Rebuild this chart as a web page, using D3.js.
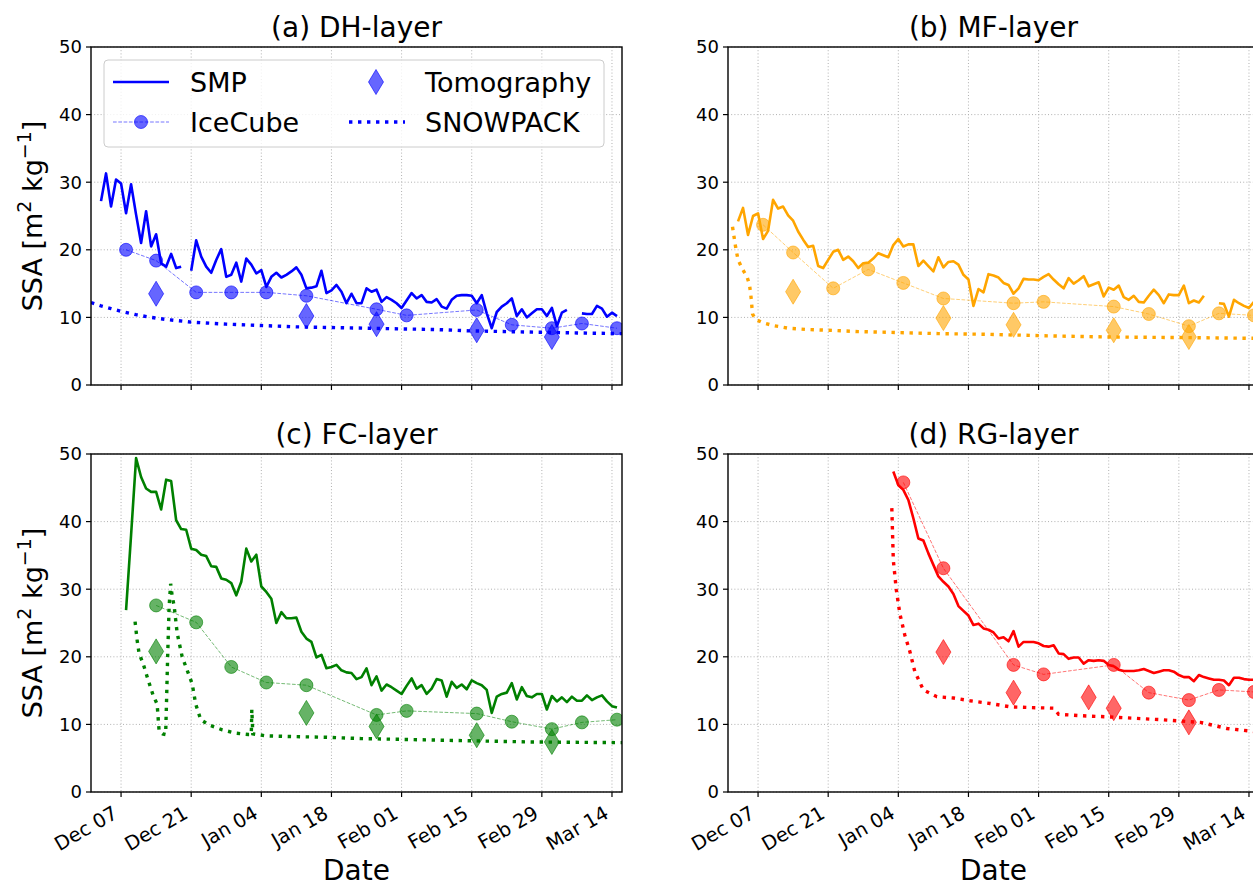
<!DOCTYPE html>
<html><head><meta charset="utf-8">
<script src="https://cdn.jsdelivr.net/npm/d3@7"></script>
<style>
html,body{margin:0;padding:0;background:#fff;}
svg{display:block;font-family:"DejaVu Sans",sans-serif;}
</style></head>
<body><svg id="chart" width="1253" height="888"></svg>
<script>
// ---------------- DATA ----------------
const seasonStart = "2015-12-01";   // SNOWPACK day offsets count from here
const xDomain = ["2015-12-01", "2016-03-16"];
const xTickDates = ["2015-12-07","2015-12-21","2016-01-04","2016-01-18","2016-02-01","2016-02-15","2016-02-29","2016-03-14"];
const yTicks = [0, 10, 20, 30, 40, 50];
const panelTitles = ["(a) DH-layer", "(b) MF-layer", "(c) FC-layer", "(d) RG-layer"];
const panelColors = ["blue", "orange", "green", "red"];
const seriesNames = ["SMP", "IceCube", "Tomography", "SNOWPACK"];

// SMP: daily values from a start date (null = no measurement)
const smpStartA = "2015-12-03";
const smpA = [27.2,31.3,26.4,30.4,29.8,25.4,29.7,25.2,21.0,25.7,20.5,22.3,18.0,17.5,19.4,17.3,17.5,null,
  16.9,21.4,19.0,17.5,16.6,18.5,20.1,16.0,16.3,18.1,15.3,
  18.7,17.8,16.5,17.0,14.5,16.0,16.6,15.9,16.3,16.8,17.4,16.3,14.3,14.4,14.6,16.9,13.6,
  14.0,14.8,13.8,12.1,13.5,12.1,12.1,14.3,13.8,14.1,12.3,13.0,12.6,12.1,
  11.4,12.5,13.6,12.8,13.3,12.3,12.2,12.7,11.6,11.3,12.6,13.2,13.3,13.3,13.2,12.1,13.3,10.6,8.4,10.8,11.6,12.1,12.8,10.2,11.2,10.0,10.6,11.2,11.2,
  10.2,11.4,8.7,10.7,11.1,null,null,10.6,10.5,10.5,11.7,11.3,10.1,10.7,10.2];
const smpStartB = "2015-12-03";
const smpB = [24.2,26.2,22.2,25.0,25.4,21.6,22.8,27.4,26.1,26.4,25.1,24.3,22.7,21.5,20.4,20.6,17.6,17.3,18.5,19.7,
  20.0,18.5,19.0,18.3,17.3,18.0,18.1,18.7,19.5,19.2,18.9,20.7,21.6,20.5,20.8,20.8,17.6,18.4,17.6,16.8,
  18.9,17.4,18.2,18.3,17.8,16.3,15.6,11.7,14.2,13.7,16.4,16.2,15.9,15.1,14.8,13.5,14.3,15.7,15.6,15.6,
  15.5,16.0,16.4,15.6,14.9,14.3,15.8,15.0,15.5,16.1,14.6,14.9,15.2,13.1,14.4,14.1,14.7,13.0,12.6,13.2,
  12.3,12.2,13.2,14.1,13.3,12.1,13.4,13.3,13.3,14.7,12.1,12.5,12.2,13.2,null,null,12.1,12.0,10.1,12.6,12.1,11.7,11.4,12.3];
const smpStartC = "2015-12-08";
const smpC = [26.9,38.0,49.4,46.6,44.9,44.4,44.4,41.8,46.2,46.0,40.2,38.9,38.8,36.0,35.8,35.1,34.9,33.4,33.3,31.6,
  31.4,30.9,29.1,31.1,36.0,34.1,35.1,30.4,29.6,28.6,25.0,26.6,25.7,25.7,25.8,23.7,22.7,22.2,19.9,20.3,
  18.3,18.5,18.8,18.0,17.7,17.6,16.7,17.0,18.3,15.8,17.1,15.0,15.9,15.5,15.0,14.5,15.7,16.8,15.3,15.8,
  14.5,15.3,16.7,16.5,14.1,16.3,15.4,15.9,15.2,16.5,16.1,15.8,15.1,11.7,14.1,14.5,14.7,16.1,13.7,15.5,
  14.2,14.0,14.5,14.5,12.2,14.2,13.4,14.0,13.3,14.1,13.5,13.5,14.3,13.6,14.0,14.3,13.4,12.7,12.5];
const smpStartD = "2016-01-03";
const smpD = [47.4,45.4,44.7,43.2,40.5,37.5,37.2,35.3,33.6,31.9,31.1,30.4,29.3,27.5,26.8,26.1,24.7,24.9,24.2,24.0,
  23.6,22.7,22.9,22.3,23.8,21.5,22.2,22.2,22.2,22.0,21.6,21.5,21.7,20.5,20.4,19.7,19.9,19.9,19.0,19.5,
  19.4,19.5,19.4,18.8,18.6,18.1,17.9,17.9,17.9,18.0,18.2,17.9,17.6,17.8,18.0,18.0,17.8,17.3,17.0,17.0,
  16.4,17.3,17.0,16.8,16.6,16.6,16.5,15.8,16.9,16.9,16.7,16.6,16.6];

// IceCube
const iceDatesAB = ["2015-12-08","2015-12-14","2015-12-22","2015-12-29","2016-01-05","2016-01-13","2016-01-27","2016-02-02","2016-02-16","2016-02-23","2016-03-02","2016-03-08","2016-03-15"];
const iceA = [20.0,18.4,13.7,13.7,13.7,13.2,11.2,10.3,11.1,8.9,8.4,9.1,8.4];
const iceB = [23.7,19.6,14.3,17.1,15.1,12.8,12.1,12.3,11.6,10.5,8.7,10.6,10.3];
const iceDatesC = ["2015-12-14","2015-12-22","2015-12-29","2016-01-05","2016-01-13","2016-01-27","2016-02-02","2016-02-16","2016-02-23","2016-03-02","2016-03-08","2016-03-15"];
const iceC = [27.6,25.1,18.5,16.2,15.8,11.4,12.0,11.6,10.4,9.3,10.3,10.7];
const iceDatesD = ["2016-01-05","2016-01-13","2016-01-27","2016-02-02","2016-02-16","2016-02-23","2016-03-02","2016-03-08","2016-03-15"];
const iceD = [45.8,33.1,18.8,17.4,18.8,14.7,13.6,15.1,14.8];

// Tomography
const tomoDatesABC = ["2015-12-14","2016-01-13","2016-01-27","2016-02-16","2016-03-02"];
const tomoA = [13.5,10.2,9.0,8.1,7.1];
const tomoB = [13.8,9.9,8.9,8.1,7.1];
const tomoC = [20.8,11.7,9.7,8.4,7.4];
const tomoDatesD = ["2016-01-13","2016-01-27","2016-02-11","2016-02-16","2016-03-02"];
const tomoD = [20.7,14.7,14.0,12.4,10.3];

// SNOWPACK (day offset from seasonStart, value)
const snowDaysA = [0,2,4,6,9,12,15,20,27,34,41,48,55,62,69,76,83,90,97,106];
const snowA = [12.2,11.7,11.3,10.9,10.4,10.0,9.7,9.3,9.0,8.8,8.6,8.5,8.4,8.3,8.2,8.0,7.9,7.8,7.7,7.6];
const snowDaysB = [0.9,1.5,2,3,3.8,4.3,4.6,4.9,5.5,7,9,12,16,20,26,32,42,52,62,76,93,106];
const snowB = [23.4,20.5,18.5,17.0,16.0,14.8,13.0,10.5,9.7,9.2,8.8,8.4,8.2,8.1,7.9,7.8,7.6,7.5,7.3,7.1,7.0,6.9];
const snowDaysC = [8.8,9.2,9.6,10.4,11.4,12.4,13.2,13.4,13.6,14.3,14.9,15.1,15.3,15.6,15.9,16.2,16.6,17.2,18.2,19.2,20.2,20.9,21.9,23.6,26.2,28.9,31.5,32.0,32.1,32.3,35,40,47,54,61,74,88,106];
const snowC = [25.2,22.5,20.5,19.0,16.6,14.3,13.0,11.0,9.0,8.6,8.5,14.0,20.0,27.5,30.8,29.0,27.5,23.5,20.0,18.0,16.0,13.0,10.7,9.9,9.2,8.7,8.5,8.5,12.2,8.6,8.3,8.2,8.1,7.9,7.8,7.6,7.4,7.3];
const snowDaysD = [32.7,33.0,33.6,34.3,35.3,36.3,37.3,39,41.7,45,48.3,52.3,56.3,60,65,66,70,76.3,86.3,94.3,99.6,105.5];
const snowD = [42.0,34.3,29.9,26.4,23.2,20.8,17.8,15.1,14.1,13.9,13.5,13.1,12.6,12.5,12.4,11.5,11.3,11.1,10.7,10.3,9.4,8.9];

// ---------------- BUILD ----------------
const parse = d3.utcParse("%Y-%m-%d");
const DAY = 864e5;
function dailySeries(start, vals){ const t0 = parse(start); return vals.map((v,i)=>({t:new Date(+t0 + i*DAY), v})); }
function pairSeries(dates, vals){ return dates.map((d,i)=>({t:parse(d), v:vals[i]})); }
function offsetSeries(days, vals){ const t0 = parse(seasonStart); return days.map((d,i)=>({t:new Date(+t0 + d*DAY), v:vals[i]})); }

const panels = [
  {smp:dailySeries(smpStartA,smpA), ice:pairSeries(iceDatesAB,iceA), tomo:pairSeries(tomoDatesABC,tomoA), snow:offsetSeries(snowDaysA,snowA)},
  {smp:dailySeries(smpStartB,smpB), ice:pairSeries(iceDatesAB,iceB), tomo:pairSeries(tomoDatesABC,tomoB), snow:offsetSeries(snowDaysB,snowB)},
  {smp:dailySeries(smpStartC,smpC), ice:pairSeries(iceDatesC,iceC), tomo:pairSeries(tomoDatesABC,tomoC), snow:offsetSeries(snowDaysC,snowC)},
  {smp:dailySeries(smpStartD,smpD), ice:pairSeries(iceDatesD,iceD), tomo:pairSeries(tomoDatesD,tomoD), snow:offsetSeries(snowDaysD,snowD)}
];

const svg = d3.select("#chart");
const L = [91, 728], T = [47, 454], PW = 531, PH = 338;
const fmt = d3.utcFormat("%b %d");
const diamond = (cx, cy, hw, hh) => `M${cx},${cy-hh}L${cx+hw},${cy}L${cx},${cy+hh}L${cx-hw},${cy}Z`;

panels.forEach((p, i) => {
  const col = i % 2, row = Math.floor(i / 2);
  const left = L[col], top = T[row];
  const color = panelColors[i];
  const x = d3.scaleUtc().domain(xDomain.map(parse)).range([left, left + PW]);
  const y = d3.scaleLinear().domain([0, 50]).range([top + PH, top]);
  const g = svg.append("g");

  const clipId = "clip" + i;
  svg.append("clipPath").attr("id", clipId).append("rect")
    .attr("x", left).attr("y", top).attr("width", PW).attr("height", PH);

  // grid
  const xt = xTickDates.map(parse);
  g.append("g").selectAll("line").data(xt).join("line")
    .attr("x1", d=>x(d)).attr("x2", d=>x(d)).attr("y1", top).attr("y2", top+PH)
    .attr("stroke", "#b0b0b0").attr("stroke-width", 1).attr("stroke-dasharray", "1,2.2");
  g.append("g").selectAll("line").data(yTicks).join("line")
    .attr("x1", left).attr("x2", left+PW).attr("y1", d=>y(d)).attr("y2", d=>y(d))
    .attr("stroke", "#b0b0b0").attr("stroke-width", 1).attr("stroke-dasharray", "1,2.2");

  const plot = g.append("g").attr("clip-path", `url(#${clipId})`);
  const line = d3.line().defined(d => d.v != null).x(d => x(d.t)).y(d => y(d.v));

  // SMP
  plot.append("path").datum(p.smp).attr("d", line).attr("fill", "none")
    .attr("stroke", color).attr("stroke-width", 2.6).attr("stroke-linejoin", "round");
  // IceCube
  plot.append("path").datum(p.ice).attr("d", line).attr("fill", "none")
    .attr("stroke", color).attr("stroke-opacity", 0.6).attr("stroke-width", 0.9).attr("stroke-dasharray", "3.7,1.6");
  plot.append("g").selectAll("circle").data(p.ice).join("circle")
    .attr("cx", d=>x(d.t)).attr("cy", d=>y(d.v)).attr("r", 6.5)
    .attr("fill", color).attr("fill-opacity", 0.6).attr("stroke", color).attr("stroke-opacity", 0.6).attr("stroke-width", 1);
  // Tomography
  plot.append("g").selectAll("path").data(p.tomo).join("path")
    .attr("d", d => diamond(x(d.t), y(d.v), 7.5, 12.5))
    .attr("fill", color).attr("fill-opacity", 0.6).attr("stroke", color).attr("stroke-opacity", 0.6).attr("stroke-width", 1);
  // SNOWPACK
  plot.append("path").datum(p.snow).attr("d", line).attr("fill", "none")
    .attr("stroke", color).attr("stroke-width", 3.4).attr("stroke-dasharray", "3.4,5.6");

  // spines
  g.append("rect").attr("x", left).attr("y", top).attr("width", PW).attr("height", PH)
    .attr("fill", "none").attr("stroke", "#000").attr("stroke-width", 1.4);

  // y axis ticks & labels
  const ya = g.append("g");
  ya.selectAll("line").data(yTicks).join("line")
    .attr("x1", left-5).attr("x2", left).attr("y1", d=>y(d)).attr("y2", d=>y(d))
    .attr("stroke", "#000").attr("stroke-width", 1.2);
  ya.selectAll("text").data(yTicks).join("text")
    .attr("x", left-9).attr("y", d=>y(d)).attr("dy", "0.35em")
    .attr("text-anchor", "end").attr("font-size", 18).attr("fill", "#000").text(d=>d);

  // x axis ticks
  const xa = g.append("g");
  xa.selectAll("line").data(xt).join("line")
    .attr("x1", d=>x(d)).attr("x2", d=>x(d)).attr("y1", top+PH).attr("y2", top+PH+5)
    .attr("stroke", "#000").attr("stroke-width", 1.2);
  if (row === 1) {
    xa.selectAll("text").data(xt).join("text")
      .attr("transform", d => `translate(${x(d)-2},${top+PH+25}) rotate(-30)`)
      .attr("text-anchor", "end").attr("font-size", 19.5).attr("fill", "#000").text(d => fmt(d));
    g.append("text").attr("x", left + PW/2).attr("y", 880).attr("text-anchor", "middle")
      .attr("font-size", 28).attr("fill", "#000").text("Date");
  }

  // title
  g.append("text").attr("x", left + PW/2).attr("y", top - 10).attr("text-anchor", "middle")
    .attr("font-size", 28).attr("fill", "#000").text(panelTitles[i]);

  // y label
  if (col === 0) {
    const yl = g.append("text").attr("transform", `translate(42,${top+PH/2}) rotate(-90)`)
      .attr("text-anchor", "middle").attr("font-size", 27).attr("fill", "#000");
    yl.append("tspan").text("SSA [m");
    yl.append("tspan").attr("font-size", 19).attr("dy", -11).text("2");
    yl.append("tspan").attr("dy", 11).text(" kg");
    yl.append("tspan").attr("font-size", 19).attr("dy", -11).text("\u22121");
    yl.append("tspan").attr("dy", 11).text("]");
  }

  // legend in panel (a)
  if (i === 0) {
    const lg = g.append("g");
    lg.append("rect").attr("x", 104).attr("y", 60).attr("width", 500).attr("height", 87).attr("rx", 4)
      .attr("fill", "#fff").attr("fill-opacity", 0.8).attr("stroke", "#cccccc").attr("stroke-width", 1);
    const r1 = 82, r2 = 122;
    lg.append("line").attr("x1", 113).attr("x2", 169).attr("y1", r1).attr("y2", r1)
      .attr("stroke", color).attr("stroke-width", 2.6);
    lg.append("line").attr("x1", 113).attr("x2", 169).attr("y1", r2).attr("y2", r2)
      .attr("stroke", color).attr("stroke-opacity", 0.6).attr("stroke-width", 0.9).attr("stroke-dasharray", "3.7,1.6");
    lg.append("circle").attr("cx", 141).attr("cy", r2).attr("r", 6.5)
      .attr("fill", color).attr("fill-opacity", 0.6).attr("stroke", color).attr("stroke-opacity", 0.6);
    lg.append("path").attr("d", diamond(376, r1, 7.5, 12.5))
      .attr("fill", color).attr("fill-opacity", 0.6).attr("stroke", color).attr("stroke-opacity", 0.6);
    lg.append("line").attr("x1", 349).attr("x2", 405).attr("y1", r2).attr("y2", r2)
      .attr("stroke", color).attr("stroke-width", 3.4).attr("stroke-dasharray", "3.4,5.6");
    const lt = [[190, r1, seriesNames[0]], [190, r2, seriesNames[1]], [425, r1, seriesNames[2]], [425, r2, seriesNames[3]]];
    lg.selectAll("text.lt").data(lt).join("text").attr("class", "lt")
      .attr("x", d=>d[0]).attr("y", d=>d[1]).attr("dy", "0.36em")
      .attr("font-size", 27).attr("fill", "#000").text(d=>d[2]);
  }
});
</script>
</body></html>
